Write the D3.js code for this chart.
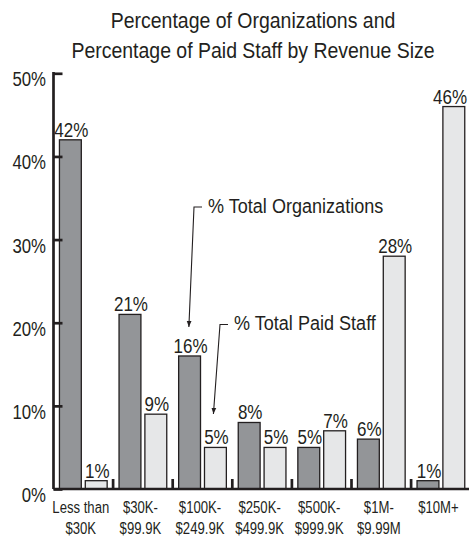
<!DOCTYPE html>
<html><head><meta charset="utf-8">
<script src="https://cdnjs.cloudflare.com/ajax/libs/d3/7.8.5/d3.min.js"></script>
<style>
body{margin:0;background:#fff;}
svg text{font-family:"Liberation Sans",Arial,Helvetica,sans-serif;fill:#231f20;}
</style></head>
<body><svg id="c" width="469" height="536"></svg>
<script>
const categories = [["Less than","$30K"],["$30K-","$99.9K"],["$100K-","$249.9K"],["$250K-","$499.9K"],["$500K-","$999.9K"],["$1M-","$9.99M"],["$10M+",""]];
const orgValues = [42,21,16,8,5,6,1];
const staffValues = [1,9,5,5,7,28,46];
const yTicks = [0,10,20,30,40,50];
const titleLines = ["Percentage of Organizations and","Percentage of Paid Staff by Revenue Size"];
const seriesNames = ["% Total Organizations","% Total Paid Staff"];

(function(){
const svg = d3.select("#c");
const ink = "#231f20";
const W = 469;
const mLeft = 53.5, mRight = 470.7, mTop = 73.3, mBottom = 489;
const x0 = d3.scaleBand().domain(d3.range(categories.length)).range([mLeft,mRight]).padding(0);
const x1 = d3.scaleBand().domain(["org","staff"]).range([0,x0.bandwidth()]).paddingInner(0.154).paddingOuter(0.23);
const y = d3.scaleLinear().domain([0,50]).range([mBottom,mTop]);

// condensed text helper
function ntext(parent, x, yy, size, sx, anchor, txt){
  return parent.append("text")
    .attr("transform",`translate(${x},${yy}) scale(${sx},1)`)
    .attr("text-anchor",anchor).attr("font-size",size).text(txt);
}

// title
const tg = svg.append("g");
titleLines.forEach((t,i)=>ntext(tg, 253, 28+i*29.5, 22, 0.885, "middle", t));

const data = categories.map((c,i)=>({i, org:orgValues[i], staff:staffValues[i]}));
const colors = {org:"#939598", staff:"#e6e7e8"};

const g = svg.append("g");
data.forEach(d=>{
  ["org","staff"].forEach(k=>{
    const xx = x0(d.i)+x1(k);
    g.append("rect").attr("x",xx).attr("y",y(d[k])).attr("width",x1.bandwidth()).attr("height",mBottom-y(d[k]))
      .attr("fill",colors[k]).attr("stroke",ink).attr("stroke-width",1.3);
    const t = ntext(g, 0, 0, 21, 0.81, "middle", d[k]+"%");
    const w = t.node().getBBox().width*0.81;
    const cx = Math.min(xx+x1.bandwidth()/2+1, W-2-w/2);
    t.attr("transform",`translate(${cx},${y(d[k])-3}) scale(0.81,1)`);
  });
});

// y axis
const yAxis = d3.axisLeft(y).tickValues(yTicks).tickSize(-9).tickFormat(d=>d+"%");
const ya = svg.append("g").attr("transform",`translate(${mLeft},0)`).call(yAxis);
ya.select(".domain").attr("d",`M0,${mTop-1.3}V${mBottom}`).attr("stroke",ink).attr("stroke-width",2.7);
ya.selectAll(".tick line").attr("stroke",ink).attr("stroke-width",2.7);
ya.selectAll(".tick text").remove();
ya.selectAll(".tick").each(function(d){
  ntext(d3.select(this), -7.5, 12.5, 21, 0.8, "end", d+"%").attr("fill",ink).style("font-family","'Liberation Sans',Arial,sans-serif");
});

// x axis baseline and separators
svg.append("line").attr("x1",mLeft).attr("x2",W).attr("y1",mBottom).attr("y2",mBottom).attr("stroke",ink).attr("stroke-width",2.7);
svg.append("g").selectAll("line").data(d3.range(1,categories.length)).join("line")
  .attr("x1",d=>x0(d)).attr("x2",d=>x0(d))
  .attr("y1",mBottom).attr("y2",mBottom-10).attr("stroke",ink).attr("stroke-width",2.7);

// x labels
const xl = svg.append("g");
categories.forEach((c,i)=>{
  c.forEach((t,j)=>{
    if(t) ntext(xl, x0(i)+x0.bandwidth()/2-2.5, 512.5+j*21, 16, 0.82, "middle", t);
  });
});

// annotations
svg.append("defs").append("marker").attr("id","ah").attr("viewBox","0 0 10 10").attr("refX",10).attr("refY",5)
  .attr("markerWidth",6).attr("markerHeight",6).attr("markerUnits","userSpaceOnUse").attr("orient","auto")
  .append("path").attr("d","M0,1L10,5L0,9Z").attr("fill",ink);

function annot(label, bx, by, tipX, tipY, baseOff){
  svg.append("path").attr("d",`M${bx+8},${by}H${bx}L${tipX},${tipY}`).attr("fill","none")
    .attr("stroke",ink).attr("stroke-width",1.1).attr("marker-end","url(#ah)");
  ntext(svg, bx+14, by+baseOff, 21, 0.86, "start", label);
}
const orgBarC = x0(2)+x1("org")+x1.bandwidth()/2;
const staffBarC = x0(2)+x1("staff")+x1.bandwidth()/2;
annot(seriesNames[0], 194, 207, orgBarC-0.7, y(orgValues[2])-29, 5.5);
annot(seriesNames[1], 220, 324.5, staffBarC-2, y(staffValues[2])-33.5, 5.5);
})();
</script></body></html>
